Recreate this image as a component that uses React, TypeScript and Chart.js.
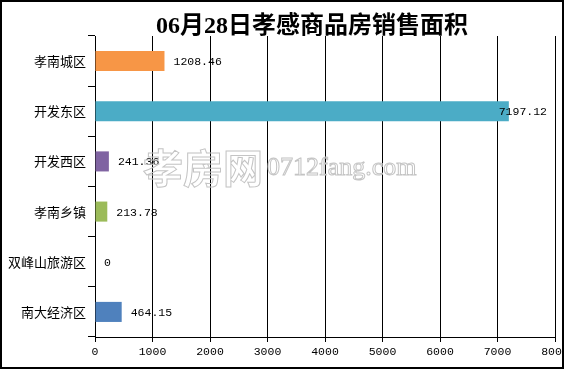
import React, { useEffect, useRef } from "react";
import { Chart, registerables } from "chart.js";

Chart.register(...registerables);

const TITLE = "06月28日孝感商品房销售面积";
const categories = ["孝南城区", "开发东区", "开发西区", "孝南乡镇", "双峰山旅游区", "南大经济区"];
const values = [1208.46, 7197.12, 241.36, 213.78, 0, 464.15];
const barColors = ["#F79646", "#4BACC6", "#8064A2", "#9BBB59", "#4F81BD", "#4F81BD"];
const xMin = 0;
const xMax = 8000;
const xStep = 1000;
const WATERMARK_CN = "孝房网";
const WATERMARK_EN = "0712fang.com";

const fmt = (v: number) => (v === 0 ? "0" : v.toFixed(2));

const decorPlugin = {
  id: "decor",
  afterDatasetsDraw(chart: any) {
    const ctx = chart.ctx;
    const area = chart.chartArea;
    const meta = chart.getDatasetMeta(0);
    ctx.save();
    // data labels
    ctx.font = "11.5px 'Liberation Mono', monospace";
    ctx.fillStyle = "#000";
    ctx.textBaseline = "middle";
    ctx.textAlign = "left";
    meta.data.forEach((el: any, i: number) => {
      const t = fmt(values[i]);
      const w = ctx.measureText(t).width;
      let x = el.x + 9;
      if (x + w > area.right - 8) x = area.right - 8 - w;
      ctx.fillText(t, x, el.y + 1);
    });
    // watermark
    ctx.strokeStyle = "#c4c4c4";
    ctx.lineWidth = 1;
    ctx.textBaseline = "alphabetic";
    ctx.font = "bold 40px 'Noto Sans CJK SC', sans-serif";
    ctx.strokeText(WATERMARK_CN, 143, 183);
    ctx.font = "26px 'Liberation Serif', serif";
    ctx.strokeText(WATERMARK_EN, 267, 175);
    ctx.restore();
  },
  afterDraw(chart: any) {
    const ctx = chart.ctx;
    ctx.save();
    // title
    ctx.font = "bold 24px 'Liberation Serif', 'Noto Sans CJK SC', serif";
    ctx.fillStyle = "#000";
    ctx.textAlign = "center";
    ctx.textBaseline = "alphabetic";
    ctx.fillText(TITLE, 312, 33);
    // outer border
    ctx.strokeStyle = "#000";
    ctx.lineWidth = 2;
    ctx.strokeRect(1, 1, chart.width - 2, chart.height - 2);
    ctx.restore();
  },
};

export default function App() {
  const ref = useRef<HTMLCanvasElement>(null);
  useEffect(() => {
    if (!ref.current) return;
    const chart = new Chart(ref.current, {
      type: "bar",
      data: {
        labels: categories,
        datasets: [
          {
            data: values,
            backgroundColor: barColors,
            borderWidth: 0,
            barPercentage: 0.4,
            categoryPercentage: 1,
          },
        ],
      },
      options: {
        indexAxis: "y",
        animation: false,
        responsive: false,
        devicePixelRatio: 1,
        layout: { padding: { top: 36, right: 9, left: 0, bottom: 0 } },
        plugins: { legend: { display: false }, tooltip: { enabled: false }, title: { display: false } },
        scales: {
          x: {
            type: "linear",
            min: xMin,
            max: xMax,
            ticks: {
              stepSize: xStep,
              color: "#000",
              padding: 3,
              maxRotation: 0,
              autoSkip: false,
              callback: (v: any) => String(v),
              font: { family: "'Liberation Mono', monospace", size: 11.5 },
            },
            grid: { color: "#000", lineWidth: 1, tickLength: 5, drawOnChartArea: true, drawTicks: true },
            border: { display: true, color: "#000", width: 1 },
            afterFit: (s: any) => {
              s.height = 32;
              s.paddingLeft = 0;
              s.paddingRight = 0;
            },
          },
          y: {
            type: "category",
            ticks: {
              color: "#000",
              padding: 2,
              font: { family: "'Noto Sans CJK SC', sans-serif", size: 13 },
            },
            grid: { color: "#000", lineWidth: 1, tickLength: 7, drawOnChartArea: false, drawTicks: true, offset: true },
            border: { display: true, color: "#000", width: 1 },
            afterFit: (s: any) => {
              s.width = 95;
              s.paddingTop = 0;
              s.paddingBottom = 0;
            },
          },
        },
      },
      plugins: [decorPlugin],
    } as any);
    return () => chart.destroy();
  }, []);
  return (
    <div style={{ position: "fixed", left: 0, top: 0, width: 564, height: 369, background: "#fff" }}>
      <canvas ref={ref} width={564} height={369} style={{ width: 564, height: 369, display: "block" }} />
    </div>
  );
}
